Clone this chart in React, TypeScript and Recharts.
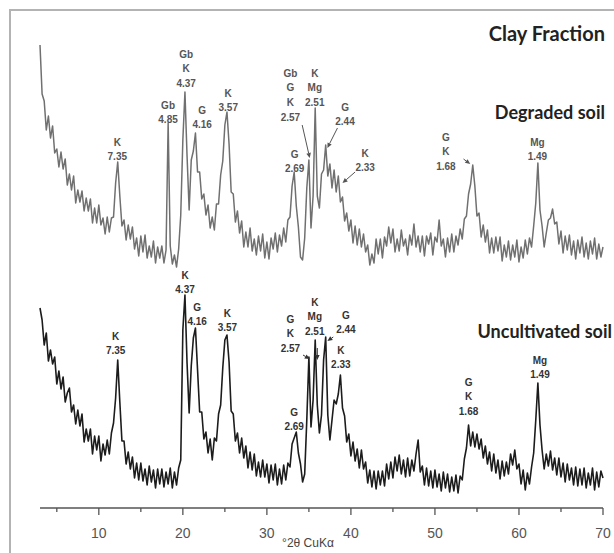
import React from 'react';
import { LineChart, Line, XAxis, YAxis, ReferenceDot, ReferenceLine } from 'recharts';

// XRD step scan: 2θ from 3° in 0.25° steps
const twoThetaStart = 3;
const twoThetaStep = 0.25;

// Degraded soil (relative intensity, offset trace)
const degradedSoil = [
  463, 414, 407, 378,
  392, 370, 382, 355,
  359, 341, 356, 339,
  349, 323, 334, 318,
  332, 305, 318, 306,
  317, 297, 310, 297,
  309, 285, 300, 285,
  303, 283, 290, 274,
  291, 276, 290, 291,
  325, 346, 312, 282,
  288, 268, 283, 269,
  281, 259, 270, 252,
  272, 256, 273, 250,
  262, 251, 267, 245,
  261, 250, 262, 245,
  258, 385, 262, 244,
  253, 241, 259, 293,
  368, 416, 352, 298,
  348, 357, 375, 336,
  336, 309, 314, 293,
  303, 280, 291, 278,
  304, 304, 333, 347,
  383, 396, 364, 316,
  314, 286, 297, 275,
  287, 261, 276, 261,
  280, 257, 269, 253,
  272, 257, 274, 250,
  266, 249, 270, 259,
  275, 256, 273, 262,
  280, 266, 288, 291,
  322, 336, 302, 281,
  251, 248, 270, 320,
  348, 280, 312, 400,
  312, 300, 334, 338,
  363, 332, 344, 320,
  338, 316, 332, 306,
  311, 287, 295, 277,
  288, 265, 282, 263,
  279, 261, 274, 256,
  263, 243, 254, 245,
  269, 254, 269, 250,
  271, 262, 281, 265,
  279, 256, 269, 257,
  278, 262, 269, 253,
  273, 263, 284, 261,
  272, 256, 272, 252,
  272, 264, 275, 253,
  271, 266, 288, 262,
  269, 251, 270, 256,
  274, 256, 272, 263,
  279, 269, 289, 292,
  314, 324, 343, 322,
  292, 295, 271, 283,
  266, 278, 255, 270,
  255, 271, 257, 271,
  247, 263, 251, 267,
  248, 263, 251, 268,
  246, 261, 250, 268,
  254, 270, 261, 282,
  305, 345, 298, 282,
  261, 275, 288, 290,
  299, 284, 286, 264,
  277, 255, 272, 258,
  273, 253, 267, 249,
  268, 255, 271, 251,
  265, 249, 267, 254,
  270, 249, 264, 251,
  261,
];

// Uncultivated soil (relative intensity)
const uncultivatedSoil = [
  200, 188, 163, 175,
  147, 158, 144, 151,
  124, 137, 119, 131,
  106, 115, 120, 96,
  103, 84, 98, 82,
  94, 66, 79, 67,
  79, 54, 72, 58,
  72, 47, 64, 53,
  68, 54, 75, 85,
  110, 148, 106, 67,
  67, 44, 56, 39,
  51, 30, 45, 28,
  45, 27, 39, 23,
  42, 26, 38, 20,
  39, 24, 39, 21,
  36, 24, 40, 20,
  36, 23, 40, 48,
  178, 213, 145, 95,
  142, 170, 180, 138,
  96, 96, 69, 76,
  55, 69, 48, 70,
  67, 94, 103, 140,
  168, 173, 146, 97,
  94, 67, 75, 55,
  70, 50, 62, 40,
  56, 38, 54, 32,
  46, 31, 48, 31,
  44, 25, 43, 28,
  44, 23, 39, 24,
  43, 28, 45, 41,
  64, 70, 76, 55,
  44, 26, 34, 88,
  151, 81, 108, 168,
  103, 75, 93, 148,
  171, 93, 68, 88,
  108, 104, 114, 133,
  100, 92, 66, 74,
  52, 66, 47, 59,
  40, 58, 39, 46,
  25, 38, 21, 37,
  19, 37, 23, 37,
  22, 44, 29, 46,
  30, 51, 37, 53,
  34, 48, 31, 50,
  32, 48, 37, 54,
  68, 36, 42, 23,
  40, 22, 37, 20,
  38, 21, 34, 17,
  36, 20, 34, 16,
  31, 17, 33, 15,
  32, 28, 49, 60,
  83, 62, 76, 61,
  74, 59, 69, 50,
  62, 44, 56, 37,
  54, 35, 48, 29,
  47, 32, 46, 34,
  54, 43, 58, 39,
  44, 24, 38, 18,
  35, 24, 41, 55,
  88, 125, 83, 58,
  39, 54, 42, 57,
  38, 50, 33, 50,
  31, 45, 26, 44,
  28, 40, 23, 41,
  22, 39, 23, 40,
  20, 35, 23, 40,
  18, 36, 21, 37,
  30,
];

const xTicks = [5, 10, 15, 20, 25, 30, 35, 40, 45, 50, 55, 60, 65, 70];

const degradedLabels = [
  { t: 12.2, h: 366, lines: ['K', '7.35'] },
  { t: 18.24, h: 403, lines: ['Gb', '4.85'] },
  { t: 20.4, h: 454, lines: ['Gb', 'K', '4.37'] },
  { t: 22.3, h: 398, lines: ['G', '4.16'] },
  { t: 25.4, h: 415, lines: ['K', '3.57'] },
  { t: 32.8, h: 435, lines: ['Gb', 'G', 'K', '2.57'] },
  { t: 35.7, h: 435, lines: ['K', 'Mg', '2.51'] },
  { t: 39.3, h: 401, lines: ['G', '2.44'] },
  { t: 33.3, h: 354, lines: ['G', '2.69'] },
  { t: 41.7, h: 355, lines: ['K', '2.33'] },
  { t: 51.3, h: 371, lines: ['G', 'K', '1.68'] },
  { t: 62.2, h: 366, lines: ['Mg', '1.49'] },
];

const uncultivatedLabels = [
  { t: 12.0, h: 172, lines: ['K', '7.35'] },
  { t: 20.26, h: 233, lines: ['K', '4.37'] },
  { t: 21.7, h: 201, lines: ['G', '4.16'] },
  { t: 25.3, h: 195, lines: ['K', '3.57'] },
  { t: 32.8, h: 189, lines: ['G', 'K', '2.57'] },
  { t: 35.7, h: 206, lines: ['K', 'Mg', '2.51'] },
  { t: 39.4, h: 193, lines: ['G', '2.44'] },
  { t: 38.8, h: 158, lines: ['K', '2.33'] },
  { t: 33.25, h: 96, lines: ['G', '2.69'] },
  { t: 54.0, h: 126, lines: ['G', 'K', '1.68'] },
  { t: 62.5, h: 148, lines: ['Mg', '1.49'] },
];

const degradedArrows = [
  { t1: 34.2, h1: 383, t2: 35.1, h2: 350 },
  { t1: 38.4, h1: 380, t2: 37.2, h2: 360 },
  { t1: 40.5, h1: 336, t2: 39.0, h2: 325 },
  { t1: 53.4, h1: 349, t2: 54.2, h2: 344 },
];

const uncultivatedArrows = [
  { t1: 34.3, h1: 153, t2: 35.1, h2: 149 },
  { t1: 36.0, h1: 160, t2: 36.0, h2: 148 },
  { t1: 37.9, h1: 171, t2: 37.2, h2: 167 },
];

const data = degradedSoil.map((d, i) => ({
  t: twoThetaStart + i * twoThetaStep,
  degraded: d,
  uncultivated: uncultivatedSoil[i],
}));

const ARIAL = "Arial, 'Liberation Sans', sans-serif";
const TITLE_FONT = "Lato, 'Open Sans', sans-serif";

const XTick = (props: any) => {
  const { x, y, payload } = props;
  const v = payload.value;
  const major = v % 10 === 0;
  return (
    <g>
      <line x1={x} y1={y} x2={x} y2={y + (major ? 7 : 4)} stroke="#555" strokeWidth={1.3} />
      {major && (
        <text x={x} y={y + 30} textAnchor="middle" fontSize={14} fill="#555" fontFamily={ARIAL}>
          {v}
        </text>
      )}
    </g>
  );
};

const makeLabelShape = (lines: string[], color: string) => (props: any) => {
  const { cx, cy } = props;
  return (
    <text textAnchor="middle" fontSize={10} fontWeight="bold" fill={color} fontFamily={ARIAL}>
      {lines.map((l, k) => (
        <tspan key={k} x={cx} y={cy + 3.6 + k * 14.7}>
          {l}
        </tspan>
      ))}
    </text>
  );
};

const makeArrowShape = (color: string) => (props: any) => {
  const { x1, y1, x2, y2 } = props;
  const dx = x2 - x1;
  const dy = y2 - y1;
  const len = Math.sqrt(dx * dx + dy * dy) || 1;
  const ux = dx / len;
  const uy = dy / len;
  const hl = 5;
  const hw = 2.3;
  const bx = x2 - ux * hl;
  const by = y2 - uy * hl;
  const p = `${x2},${y2} ${bx - uy * hw},${by + ux * hw} ${bx + uy * hw},${by - ux * hw}`;
  return (
    <g>
      <line x1={x1} y1={y1} x2={bx} y2={by} stroke={color} strokeWidth={1} />
      <polygon points={p} fill={color} />
    </g>
  );
};

export default function App() {
  return (
    <div style={{ position: 'absolute', left: 0, top: 0, width: 614, height: 553, background: '#fff' }}>
      <LineChart
        width={614}
        height={553}
        data={data}
        margin={{ top: 45, right: 11, bottom: 0, left: 40 }}
      >
        <XAxis
          dataKey="t"
          type="number"
          domain={[3, 70]}
          ticks={xTicks}
          interval={0}
          tick={<XTick />}
          tickLine={false}
          tickSize={0}
          tickMargin={0}
          height={45}
          axisLine={{ stroke: '#555', strokeWidth: 1.5 }}
        />
        <YAxis
          type="number"
          domain={[0, 463]}
          tick={false}
          tickLine={false}
          width={0}
          axisLine={{ stroke: '#555', strokeWidth: 1.5 }}
        />
        <Line
          type="linear"
          dataKey="degraded"
          stroke="#707070"
          strokeWidth={1.5}
          strokeLinejoin="round"
          dot={false}
          isAnimationActive={false}
        />
        <Line
          type="linear"
          dataKey="uncultivated"
          stroke="#1c1c1c"
          strokeWidth={1.6}
          strokeLinejoin="round"
          dot={false}
          isAnimationActive={false}
        />
        {degradedArrows.map((a, i) => (
          <ReferenceLine
            key={`da${i}`}
            segment={[{ x: a.t1, y: a.h1 }, { x: a.t2, y: a.h2 }]}
            shape={makeArrowShape('#555')}
            ifOverflow="visible"
          />
        ))}
        {uncultivatedArrows.map((a, i) => (
          <ReferenceLine
            key={`ua${i}`}
            segment={[{ x: a.t1, y: a.h1 }, { x: a.t2, y: a.h2 }]}
            shape={makeArrowShape('#333')}
            ifOverflow="visible"
          />
        ))}
        {degradedLabels.map((l, i) => (
          <ReferenceDot
            key={`dl${i}`}
            x={l.t}
            y={l.h}
            r={0}
            ifOverflow="visible"
            shape={makeLabelShape(l.lines, '#555')}
          />
        ))}
        {uncultivatedLabels.map((l, i) => (
          <ReferenceDot
            key={`ul${i}`}
            x={l.t}
            y={l.h}
            r={0}
            ifOverflow="visible"
            shape={makeLabelShape(l.lines, '#333')}
          />
        ))}
      </LineChart>
      <svg
        width={614}
        height={553}
        style={{ position: 'absolute', left: 0, top: 0, pointerEvents: 'none' }}
      >
        <path d="M10,553 V10 H614" fill="none" stroke="#b3b3b3" strokeWidth={2} />
        <text x={605} y={41} textAnchor="end" fontSize={20} fontWeight="bold" fill="#222" fontFamily={TITLE_FONT}>
          Clay Fraction
        </text>
        <text x={605} y={119} textAnchor="end" fontSize={18} fontWeight="bold" fill="#222" fontFamily={TITLE_FONT}>
          Degraded soil
        </text>
        <text x={612} y={338} textAnchor="end" fontSize={18} fontWeight="bold" fill="#222" fontFamily={TITLE_FONT}>
          Uncultivated soil
        </text>
        <text x={308} y={547} textAnchor="middle" fontSize={12} fill="#444" fontFamily={ARIAL}>
          °2θ CuKα
        </text>
      </svg>
    </div>
  );
}
